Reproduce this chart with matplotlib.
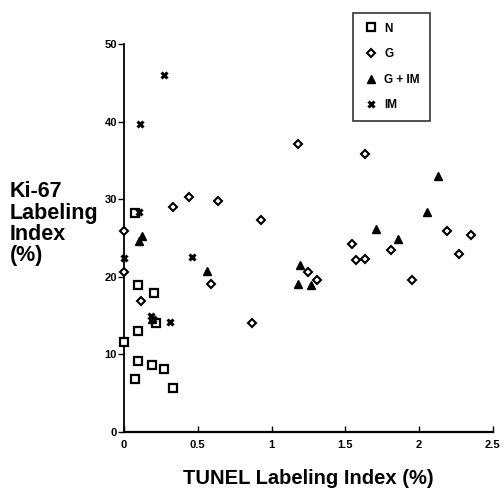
import matplotlib
matplotlib.use("Agg")
import matplotlib.pyplot as plt

plt.rcParams['font.family'] = ['Liberation Sans', 'DejaVu Sans']

# Data (TUNEL %, Ki-67 %)
n_x = [0.0, 0.095, 0.205, 0.095, 0.22, 0.095, 0.19, 0.27, 0.075, 0.33, 0.075]
n_y = [11.6, 18.9, 17.9, 13.0, 14.0, 9.1, 8.6, 8.1, 6.8, 5.7, 28.2]

g_x = [0.0, 0.0, 0.115, 0.33, 0.44, 0.64, 0.59, 0.865, 0.93, 1.18, 1.63,
       1.545, 1.57, 1.63, 1.81, 2.19, 2.35, 2.27, 1.95, 1.25, 1.31]
g_y = [25.9, 20.6, 16.9, 29.0, 30.3, 29.8, 19.1, 14.1, 27.3, 37.1, 35.8,
       24.2, 22.2, 22.3, 23.5, 25.9, 25.4, 22.9, 19.6, 20.6, 19.6]

gim_x = [0.10, 0.12, 0.56, 1.19, 1.18, 1.27, 1.71, 1.86, 2.05, 2.13, 0.19]
gim_y = [24.6, 25.3, 20.8, 21.5, 19.1, 18.9, 26.1, 24.9, 28.3, 33.0, 14.6]

im_x = [0.27, 0.11, 0.10, 0.0, 0.46, 0.20, 0.31, 0.18]
im_y = [46.0, 39.7, 28.3, 22.4, 22.6, 14.6, 14.2, 14.9]

x_ticks = [0, 0.5, 1, 1.5, 2, 2.5]
x_ticklabels = ['0', '0.5', '1', '1.5', '2', '2.5']
y_ticks = [0, 10, 20, 30, 40, 50]

fig = plt.figure(figsize=(5.04, 5.01), dpi=100)
ax = fig.add_axes([0.246, 0.138, 0.732, 0.774])

ax.plot(n_x, n_y, linestyle='none', marker='s', markersize=6, markerfacecolor='white',
        markeredgecolor='black', markeredgewidth=1.6, clip_on=False, label='N', zorder=3)
ax.plot(g_x, g_y, linestyle='none', marker='D', markersize=4.0, markerfacecolor='white',
        markeredgecolor='black', markeredgewidth=1.5, clip_on=False, label='G', zorder=3)
ax.plot(gim_x, gim_y, linestyle='none', marker='^', markersize=5.2, markerfacecolor='black',
        markeredgecolor='black', clip_on=False, label='G + IM', zorder=3)
ax.plot(im_x, im_y, linestyle='none', marker='x', markersize=5,
        markeredgecolor='black', markeredgewidth=2.2, clip_on=False, label='IM', zorder=3)

ax.set_xlim(0, 2.5)
ax.set_ylim(0, 50)
ax.spines['top'].set_visible(False)
ax.spines['right'].set_visible(False)
ax.spines['left'].set_linewidth(1.3)
ax.spines['bottom'].set_linewidth(1.6)

ax.set_xticks(x_ticks)
ax.set_xticklabels(x_ticklabels)
ax.set_yticks(y_ticks)
ax.tick_params(axis='x', direction='in', length=4, width=1, labelsize=8, pad=6)
ax.tick_params(axis='y', direction='out', length=4, width=1, labelsize=8, pad=1)
for lbl in ax.get_xticklabels() + ax.get_yticklabels():
    lbl.set_fontweight('bold')

fig.text(0.02, 0.553, 'Ki-67\nLabeling\nIndex\n(%)', fontsize=15.5, fontweight='bold',
         ha='left', va='center', linespacing=1.02)
fig.text(0.611, 0.045, 'TUNEL Labeling Index (%)', fontsize=14.5, fontweight='bold',
         ha='center', va='center')

leg = ax.legend(loc='upper left', bbox_to_anchor=(0.700, 0.975), bbox_transform=fig.transFigure,
                fontsize=8.5, frameon=True, fancybox=False, edgecolor='black',
                labelspacing=1.15, borderpad=0.85, handletextpad=0.5, handlelength=1.3,
                borderaxespad=0)
leg.get_frame().set_linewidth(1.2)
for t in leg.get_texts():
    t.set_fontweight('bold')

fig.savefig('out.png', dpi=100)
